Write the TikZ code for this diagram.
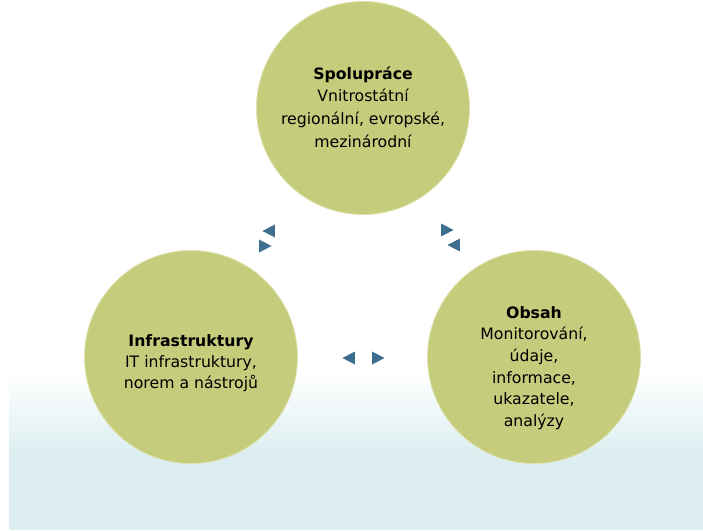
\documentclass[tikz,border=0pt]{standalone}
\usepackage{fontspec}
\setmainfont{DejaVu Sans}
\usepackage{xcolor}
\usetikzlibrary{shapes.geometric,positioning}

\definecolor{circfill}{HTML}{C5CD7C}
\definecolor{circedge}{HTML}{DDE2AE}
\definecolor{tipblue}{HTML}{3D6E90}
\definecolor{bgblue}{HTML}{DCEEF1}

\begin{document}
\begin{tikzpicture}[
  x=1pt, y=-1pt,
  circ/.style={circle, draw=circedge, line width=0.8pt, fill=circfill,
    minimum size=213pt, inner sep=0pt},
  txt/.style={align=center, font=\fontsize{15.7}{21.2}\selectfont},
  tip/.style={isosceles triangle, isosceles triangle stretches, fill=tipblue,
    inner sep=0pt, minimum width=13pt, minimum height=12.5pt}
]
  \useasboundingbox (0,0) rectangle (703,530);
  \shade[top color=white, bottom color=bgblue] (9,372) rectangle (703,455);
  \fill[bgblue] (9,455) rectangle (703,530);

  \node[circ] (spol) at (363,108) {};
  \node[circ] (infra) at (191,357) {};
  \node[circ] (obsah) at (534,357) {};

  \node[txt, font=\fontsize{15.7}{22.6}\selectfont] (spoltxt) at ([yshift=1pt]spol.center)
    {\textbf{Spolupráce}\\Vnitrostátní\\regionální, evropské,\\mezinárodní};
  \node[txt] (infratxt) at ([yshift=-6pt]infra.center)
    {\textbf{Infrastruktury}\\IT infrastruktury,\\norem a nástrojů};
  \node[txt, font=\fontsize{15.7}{21.6}\selectfont] (obsahtxt) at ([yshift=-11pt]obsah.center)
    {\textbf{Obsah}\\Monitorování,\\údaje,\\informace,\\ukazatele,\\analýzy};

  % arrow tips between the circles
  \node[tip, shape border rotate=185] (tipa) at (271,231) {};
  \node[tip, shape border rotate=-4] (tipb) at (263,246) {};
  \node[tip, shape border rotate=6] (tipc) at (445,230) {};
  \node[tip, shape border rotate=183] (tipd) at (456,245) {};
  \node[tip, shape border rotate=180] (tipe) at (351,358) {};
  \node[tip, shape border rotate=0] (tipf) at (376,358) {};
\end{tikzpicture}
\end{document}
